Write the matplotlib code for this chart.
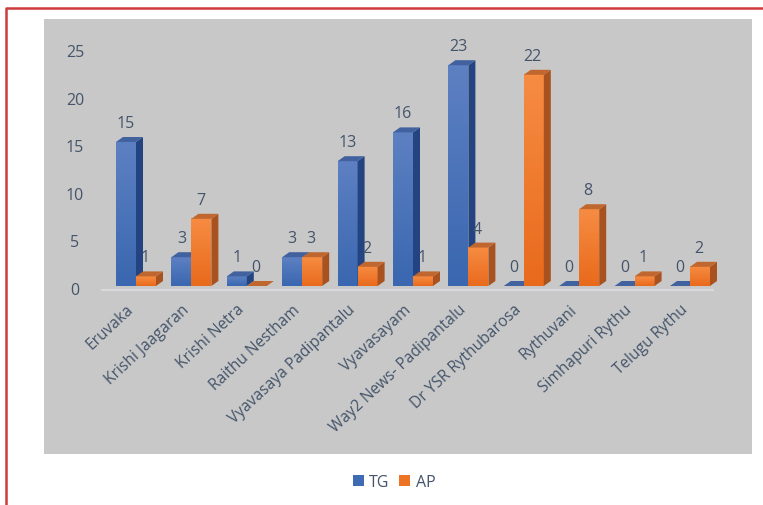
import matplotlib
matplotlib.use("Agg")
import matplotlib.pyplot as plt
from matplotlib.lines import Line2D
from matplotlib.patches import Patch, Polygon
from matplotlib.colors import LinearSegmentedColormap
import numpy as np

categories = ["Eruvaka", "Krishi Jaagaran", "Krishi Netra", "Raithu Nestham",
              "Vyavasaya Padipantalu", "Vyavasayam", "Way2 News- Padipantalu",
              "Dr YSR Rythubarosa", "Rythuvani", "Simhapuri Rythu", "Telugu Rythu"]
tg_values = [15, 3, 1, 3, 13, 16, 23, 0, 0, 0, 0]
ap_values = [1, 7, 0, 3, 2, 1, 4, 22, 8, 1, 2]
y_ticks = [0, 5, 10, 15, 20, 25]

W, H = 763, 506
TEXT = "#44546a"
BLUE = {"top": "#5d80c2", "bottom": "#3a67b0", "lid": "#41619f", "side": "#234480"}
ORANGE = {"top": "#f68c42", "bottom": "#e96a1c", "lid": "#c0672f", "side": "#a8531f"}

plt.rcParams["font.family"] = ["Open Sans", "DejaVu Sans"]

# pixel geometry of the chart
PX_PER_CAT = 55.4
PX_PER_UNIT = 9.6
X0, Y0 = 136, 287  # pixel position of first category and of value 0
BAR_W = 20 / PX_PER_CAT
DX = 7 / PX_PER_CAT
DY = 5 / PX_PER_UNIT


def draw_bar(ax, x, value, colors):
    """Draws one bar with a gradient front and a fake 3D side and lid"""
    cmap = LinearSegmentedColormap.from_list("front", [colors["top"], colors["bottom"]])
    if value > 0:
        ax.imshow(np.linspace(0, 1, 64).reshape(-1, 1), cmap=cmap, aspect="auto", zorder=3,
                  extent=(x, x + BAR_W, 0, value))
    ax.add_patch(Polygon([(x + BAR_W, 0), (x + BAR_W + DX, DY), (x + BAR_W + DX, value + DY), (x + BAR_W, value)],
                         facecolor=colors["side"], edgecolor="none", zorder=3))
    ax.add_patch(Polygon([(x, value), (x + DX, value + DY), (x + BAR_W + DX, value + DY), (x + BAR_W, value)],
                         facecolor=colors["lid"], edgecolor="none", zorder=3))


fig = plt.figure(figsize=(W / 100, H / 100), dpi=100)
ax = fig.add_axes([44 / W, (H - 455) / H, 708 / W, 435 / H], facecolor="#c8c8c8")

for i in range(len(categories)):
    draw_bar(ax, i - BAR_W, tg_values[i], BLUE)
    draw_bar(ax, i, ap_values[i], ORANGE)
    ax.annotate(str(tg_values[i]), (i - BAR_W / 2, tg_values[i]), xytext=(0, 19), textcoords="offset pixels",
                ha="center", va="center", fontsize=11.5, color=TEXT, zorder=5)
    ax.annotate(str(ap_values[i]), (i + BAR_W / 2, ap_values[i]), xytext=(-1, 19), textcoords="offset pixels",
                ha="center", va="center", fontsize=11.5, color=TEXT, zorder=5)

# floor line, sits a little below the bars
floor_y = -4 / PX_PER_UNIT
ax.plot([(102 - X0) / PX_PER_CAT, (713 - X0) / PX_PER_CAT], [floor_y, floor_y], color="#d8d9dd", lw=1.6, zorder=2)

ax.set_xlim((44 - X0) / PX_PER_CAT, (752 - X0) / PX_PER_CAT)
ax.set_ylim((Y0 - 455) / PX_PER_UNIT, (Y0 - 20) / PX_PER_UNIT)

for v in y_ticks:
    ax.annotate(str(v), ((75 - X0) / PX_PER_CAT, v * 238 / 240), xytext=(0, -4), textcoords="offset pixels",
                ha="center", va="center", fontsize=11.5, color=TEXT)

ax.spines["bottom"].set_position(("data", floor_y))
ax.set_yticks([])
# labels end a little left of the category centre
ax.set_xticks(np.arange(len(categories)) - 10 / PX_PER_CAT)
ax.set_xticklabels(categories, rotation=43, ha="right", rotation_mode="anchor", fontsize=11.2, color=TEXT)
ax.tick_params(axis="x", length=0, pad=8)
for s in ax.spines.values():
    s.set_visible(False)

handles = [Patch(facecolor="#3f6ab4", label="TG"), Patch(facecolor="#ed7425", label="AP")]
fig.legend(handles=handles, loc="center", bbox_to_anchor=(394 / W, 1 - 483 / H), ncol=2, frameon=False,
           fontsize=11.5, labelcolor=TEXT, handlelength=0.7, handleheight=0.7, handletextpad=0.33, columnspacing=0.6)

# red frame round the slide
red = "#cf3a3d"
fig.add_artist(Line2D([6 / W, 6 / W, 1], [0, 1 - 8.5 / H, 1 - 8.5 / H], color=red, lw=1.8))

fig.savefig("out.png", dpi=100)
